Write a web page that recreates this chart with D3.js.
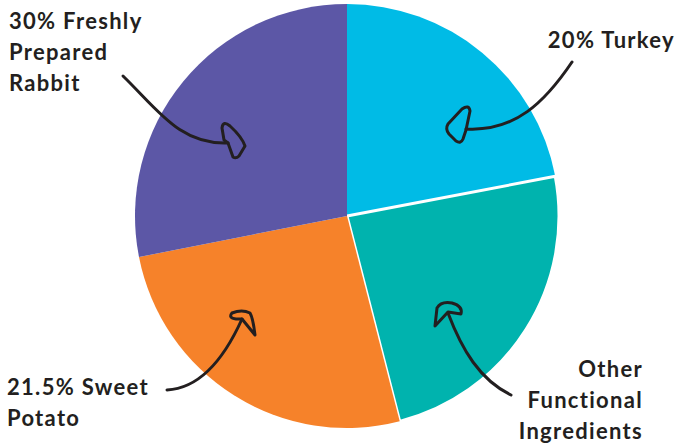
<!DOCTYPE html>
<html>
<head>
<meta charset="utf-8">
<script src="https://cdn.jsdelivr.net/npm/d3@7"></script>
<style>
  body { margin: 0; background: #fff; }
  text { font-family: Lato, "Open Sans", sans-serif; font-weight: 700; fill: #231f20; }
</style>
</head>
<body>
<div id="pie_chart"></div>
<script>
// Slice shares as drawn (clockwise from 12 o'clock).
var keys = ["turkey", "other", "potato", "rabbit"];
var shares = [22.0, 24.0, 25.9, 28.1];
var colors = ["#00bbe6", "#00b3ae", "#f6822a", "#5c57a6"];

// Label lines for each slice.
var labelLines = [
  ["20% Turkey"],
  ["Other", "Functional", "Ingredients"],
  ["21.5% Sweet", "Potato"],
  ["30% Freshly", "Prepared", "Rabbit"]
];

var divWidth = 678,
    divHeight = 448,
    cx = 347,
    cy = 216,
    radius = 212;

var svg = d3.select("#pie_chart")
  .append("svg")
  .attr("width", divWidth)
  .attr("height", divHeight);

var pie = d3.pie().sort(null).value(d => d.value);
var arc = d3.arc().innerRadius(0).outerRadius(radius);

var data = keys.map((k, i) => ({key: k, value: shares[i], color: colors[i], lines: labelLines[i]}));

var g = svg.append("g")
  .attr("transform", `translate(${cx},${cy})`);

g.selectAll("path")
  .data(pie(data))
  .join("path")
    .attr("d", arc)
    .attr("fill", d => d.data.color)
    .attr("stroke", d => d.data.key === "other" ? "#fff" : "none")
    .attr("stroke-width", 3)
    .attr("stroke-linejoin", "round");

// Hand-drawn style pointers (decoration).
var pointers = [
  // turkey
  "M572,62 C545,102 515,132 466,129",
  "M466,130 L470,111 Q469,104 462,109 L448,124 Q445,129 449,134 L456,141 Q461,144 463,139 Z",
  // other
  "M511,395 C480,380 462,350 448,313",
  "M448,312 L461,314 Q463,306 452,303 Q441,301 437,308 L435,326 Z",
  // potato
  "M167,390 C205,388 228,350 242,319",
  "M242,319 L255,335 Q253,318 250,313 Q242,309 232,313 Q228,318 236,319 Z",
  // rabbit
  "M123,76 C158,110 180,145 228,143",
  "M228,143 L233,157 Q236,159 239,156 L245,146 Q242,137 230,126 Q223,120 222,128 L224,140 Z"
];

svg.append("g")
  .selectAll("path")
  .data(pointers)
  .join("path")
    .attr("d", d => d)
    .attr("fill", "none")
    .attr("stroke", "#231f20")
    .attr("stroke-width", 3)
    .attr("stroke-linecap", "round")
    .attr("stroke-linejoin", "round");

// Label placement.
var labelPos = {
  turkey: {x: 675, y: 48, anchor: "end"},
  other: {x: 643, y: 377, anchor: "end"},
  potato: {x: 7, y: 395, anchor: "start"},
  rabbit: {x: 9, y: 29, anchor: "start"}
};

var labels = svg.append("g")
  .selectAll("text")
  .data(data)
  .join("text")
    .attr("x", d => labelPos[d.key].x)
    .attr("y", d => labelPos[d.key].y)
    .attr("text-anchor", d => labelPos[d.key].anchor)
    .style("font-size", "22px")
    .style("letter-spacing", "1.3px");

labels.selectAll("tspan")
  .data(d => d.lines.map(l => ({line: l, x: labelPos[d.key].x})))
  .join("tspan")
    .attr("x", d => d.x)
    .attr("dy", (d, i) => i === 0 ? 0 : 31)
    .text(d => d.line);
</script>
</body>
</html>
